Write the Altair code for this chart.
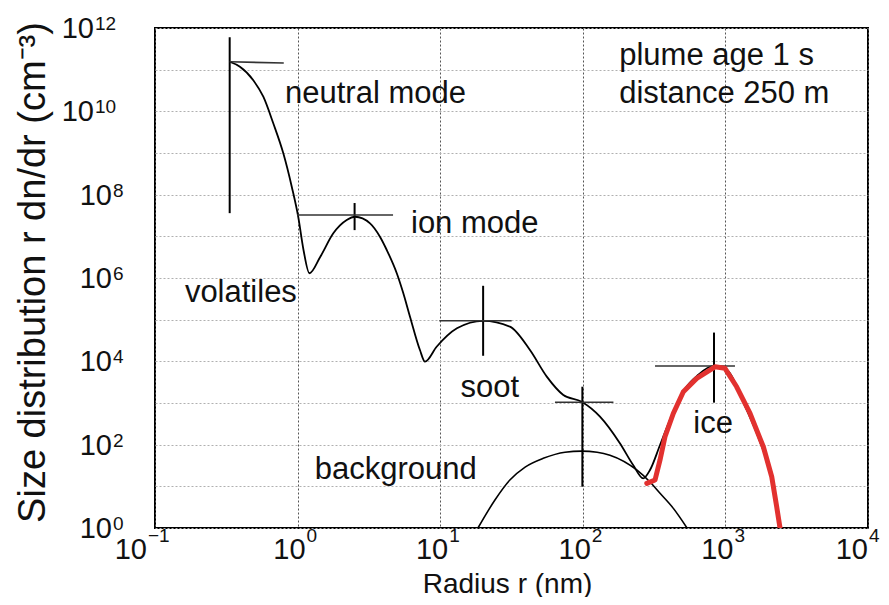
import altair as alt
import pandas as pd

FONT = "Liberation Sans"

# ---- data (radius in nm, r dn/dr in cm^-3) ----
main_r = [0.334, 0.394, 0.489, 0.575, 0.676, 0.794, 0.910, 1.01, 1.10, 1.21,
          1.44, 1.78, 2.21, 2.53, 3.22, 3.78, 4.22, 4.96, 5.48, 6.14,
          7.21, 7.82, 9.44, 13.1, 20.0, 30.8, 42.6, 55.9, 73.0, 98.2,
          132, 182, 226, 265, 296, 348, 422, 521, 643, 818,
          1026, 1371, 1750, 2125, 2379]
main_n = [1.55e11, 1.18e11, 5.6e10, 2.24e10, 5.1e9, 9.8e8, 1.55e8, 2.95e7, 4.7e6, 1.3e6,
          3.2e6, 1.18e7, 2.46e7, 2.95e7, 2.05e7, 9.8e6, 4.7e6, 1.3e6, 4.6e5, 1.18e5,
          1.87e4, 9.8e3, 2.24e4, 6.2e4, 9.4e4, 6.8e4, 1.87e4, 4.3e3, 1.56e3, 1.07e3,
          470, 108, 32, 15.5, 24.7, 98, 510, 2200, 4700, 7700,
          6200, 850, 116, 14, 1]

bg_r = [18.4, 24.2, 30.8, 39.4, 52.8, 75, 98.2, 126, 155, 239, 296, 348, 430, 538]
bg_n = [1, 4.7, 14.2, 29, 47, 66, 70, 66, 56, 24.7, 12.7, 6.8, 3.0, 1]

ice_r = [281, 321, 348, 377, 431, 507, 629, 845, 993, 1199, 1489, 1845, 2113, 2290, 2416, 2450]
ice_n = [11.8, 14.2, 43, 155, 560, 1870, 3900, 7400, 6800, 2450, 560, 89, 17, 3.2, 1, 0.7]

# mode markers (crosses)
hbar_r1 = [0.334, 0.99, 9.86, 63.8, 321]
hbar_r2 = [0.80, 4.67, 31.7, 164, 1167]
hbar_n1 = [1.55e11, 3.24e7, 9.4e4, 1.04e3, 7.7e3]
hbar_n2 = [1.44e11, 3.24e7, 9.4e4, 1.04e3, 7.7e3]
vbar_r = [0.334, 2.51, 20.0, 99.3, 832]
vbar_n1 = [6.0e11, 6.3e7, 6.5e5, 2.46e3, 4.9e4]
vbar_n2 = [3.6e7, 1.41e7, 1.36e4, 9.8, 1.02e3]

# annotations
ann_text = ["neutral mode", "ion mode", "volatiles", "soot", "background", "ice",
            "plume age 1 s", "distance 250 m"]
ann_r = [0.816, 6.24, 0.162, 13.9, 1.32, 596, 180, 180]
ann_n = [1.55e10, 1.18e7, 2.65e5, 1.37e3, 15, 194, 1.29e11, 1.55e10]

# ticks
x_ticks = [0.1, 1, 10, 100, 1000, 10000]
x_exps = ["\u22121", "0", "1", "2", "3", "4"]
y_ticks = [1, 1e2, 1e4, 1e6, 1e8, 1e10, 1e12]
y_exps = ["0", "2", "4", "6", "8", "10", "12"]
y_grid = [10.0 ** k for k in range(0, 13)]

main_df = pd.DataFrame({"r": main_r, "n": main_n})
bg_df = pd.DataFrame({"r": bg_r, "n": bg_n})
ice_df = pd.DataFrame({"r": ice_r, "n": ice_n})
h_df = pd.DataFrame({"r": hbar_r1, "r2": hbar_r2, "n": hbar_n1, "n2": hbar_n2})
v_df = pd.DataFrame({"r": vbar_r, "n": vbar_n1, "n2": vbar_n2})
ann_df = pd.DataFrame({"r": ann_r, "n": ann_n, "t": ann_text})
xt_df = pd.DataFrame({"r": x_ticks, "e": x_exps, "b": ["10"] * len(x_ticks)})
yt_df = pd.DataFrame({"n": y_ticks, "e": y_exps, "b": ["10"] * len(y_ticks)})

xs = alt.Scale(type="log", domain=[0.1, 10000], nice=False)
ys = alt.Scale(type="log", domain=[1, 1e12], nice=False)

x_axis = alt.Axis(values=x_ticks, grid=True, gridColor="#555555", gridDash=[2, 2],
                  gridWidth=1, labels=False, ticks=False, domain=False,
                  title="Radius r (nm)", titleFont=FONT, titleFontSize=28,
                  titleFontWeight="normal", titleColor="#111111",
                  titleX=352, titleY=64, titleAlign="center", titleBaseline="alphabetic")
y_axis = alt.Axis(values=y_grid, grid=True, gridColor="#b0b0b0", gridDash=[2, 2],
                  gridWidth=1, labels=False, ticks=False, domain=False,
                  title="Size distribution r dn/dr (cm\u207b\u00b3)", titleFont=FONT,
                  titleFontSize=38, titleFontWeight="normal", titleColor="#111111",
                  titleAngle=270, titleX=-122, titleY=244, titleAlign="center",
                  titleBaseline="middle")

X = lambda: alt.X("r:Q", scale=xs, axis=x_axis)
Y = lambda: alt.Y("n:Q", scale=ys, axis=y_axis)

main = alt.Chart(main_df).mark_line(color="black", strokeWidth=1.8,
                                     interpolate="monotone", clip=True).encode(x=X(), y=Y())

bg = alt.Chart(bg_df).mark_line(color="black", strokeWidth=1.6,
                                 interpolate="monotone", clip=True).encode(x=X(), y=Y())

ice = alt.Chart(ice_df).mark_line(color="#e2312f", strokeWidth=5, strokeJoin="round",
                                   strokeCap="round", clip=True).encode(x=X(), y=Y())

hbars = alt.Chart(h_df).mark_rule(color="#333333", strokeWidth=1.6).encode(
    x=X(), x2="r2:Q", y=Y(), y2="n2:Q")
vbars = alt.Chart(v_df).mark_rule(color="black", strokeWidth=2).encode(
    x=X(), y=Y(), y2="n2:Q")

ann = alt.Chart(ann_df).mark_text(align="left", baseline="alphabetic", font=FONT,
                                   fontSize=31, color="#111111").encode(
    x=X(), y=Y(), text="t:N")

# x tick labels: 10 with superscript exponent
def xlab(flt, dx):
    src = alt.Chart(xt_df).transform_filter(flt)
    return [
        src.mark_text(align="right", baseline="alphabetic", dx=dx, font=FONT,
                      fontSize=29, color="#111111").encode(x=X(), y=alt.value(531), text="b:N"),
        src.mark_text(align="left", baseline="alphabetic", dx=dx + 1, font=FONT,
                      fontSize=19, color="#111111").encode(x=X(), y=alt.value(514), text="e:N"),
    ]

xl = (xlab("datum.r >= 1 && datum.r < 10000", 8)
      + xlab("datum.r < 1", -8)
      + xlab("datum.r >= 10000", 0))

def ylab(flt, ax):
    src = alt.Chart(yt_df).transform_filter(flt)
    return [
        src.mark_text(align="right", baseline="alphabetic", dy=10, font=FONT,
                      fontSize=29, color="#111111").encode(x=alt.value(ax), y=Y(), text="b:N"),
        src.mark_text(align="left", baseline="alphabetic", dy=2, font=FONT,
                      fontSize=19, color="#111111").encode(x=alt.value(ax + 1), y=Y(), text="e:N"),
    ]

yl = ylab("length(datum.e) > 1", -61) + ylab("length(datum.e) <= 1", -43)

chart = alt.layer(main, bg, vbars, hbars, ice, ann, *xl, *yl).properties(
    width=713, height=500,
    autosize=alt.AutoSizeParams(type="none"),
    padding={"left": 147, "top": 20, "right": 13, "bottom": 69},
    background="white",
).configure_view(stroke="black", strokeWidth=2)

chart.save("out.html", embed_options={"renderer": "svg", "actions": False})
